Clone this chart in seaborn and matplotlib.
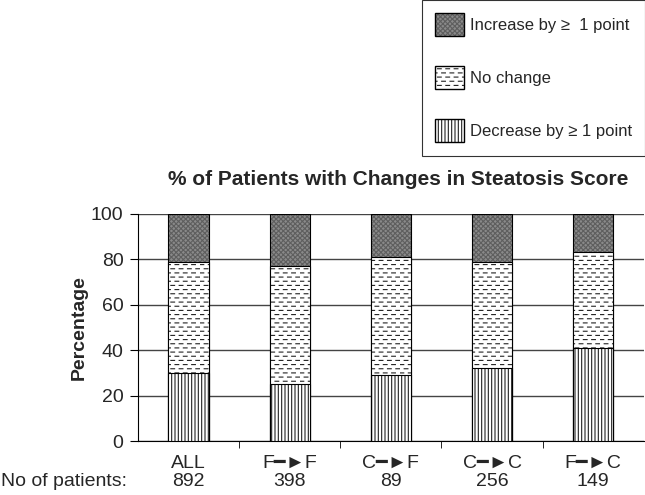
import warnings
import numpy as np
import pandas as pd
import matplotlib.pyplot as plt
import matplotlib.colors as mcolors
import matplotlib.hatch as mhatch
from matplotlib.path import Path
from matplotlib.patches import Patch
import seaborn as sns

warnings.filterwarnings("ignore")

categories = ["ALL", "F\u2501\u25baF", "C\u2501\u25baF", "C\u2501\u25baC", "F\u2501\u25baC"]
n_patients = [892, 398, 89, 256, 149]
decrease = [30, 25, 29, 32, 41]
no_change = [49, 52, 52, 47, 42]
increase = [21, 23, 19, 21, 17]

df = pd.DataFrame({"group": categories, "decrease": decrease,
                   "no_change": no_change, "increase": increase})
df["top_nc"] = df["decrease"] + df["no_change"]
df["total"] = df["top_nc"] + df["increase"]


# staggered short dashes, like the "no change" fill
class DashHatch(mhatch.HatchPatternBase):
    filled = False

    def __init__(self, hatch, density):
        self.rows = int(hatch.count('~') * density)
        self.cols = 12
        self.num_vertices = self.rows * self.cols * 2

    def set_vertices_and_codes(self, vertices, codes):
        k = 0
        for i in range(self.rows):
            y = (i + 0.5) / self.rows
            off = 0 if i % 2 == 0 else 0.5 / self.cols
            for j in range(self.cols):
                x0 = j / self.cols + off
                vertices[k] = (x0, y)
                vertices[k + 1] = (x0 + 0.45 / self.cols, y)
                codes[k] = Path.MOVETO
                codes[k + 1] = Path.LINETO
                k += 2


mhatch._hatch_types.append(DashHatch)

sns.set_style("white")
plt.rcParams['font.family'] = ['Liberation Sans', 'DejaVu Sans']
plt.rcParams['hatch.linewidth'] = 0.8

fig = plt.figure(figsize=(6.45, 4.95), dpi=100)
ax = fig.add_axes([0.214, 0.109, 0.784, 0.459])

styles = {"total": ("#8a8a8a", "xxxxxxx", "#5e5e5e"),
          "top_nc": ("white", "~~~~", "#222222"),
          "decrease": ("white", "|||||", "#222222")}
for col in ["total", "top_nc", "decrease"]:
    fc, hatch, hc = styles[col]
    n0 = len(ax.patches)
    sns.barplot(data=df, x="group", y=col, color=fc, width=0.4, ax=ax,
                saturation=1, edgecolor="black", linewidth=0.8, zorder=3)
    for p in ax.patches[n0:]:
        p.set_facecolor(fc)
        p.set_hatch(hatch)
        p._hatch_color = mcolors.to_rgba(hc)

ax.set_ylim(0, 100)
ax.set_xlim(-0.5, 4.5)
ax.set_yticks([0, 20, 40, 60, 80, 100])
ax.grid(axis="y", color="#444444", linewidth=1.0, zorder=0)
ax.set_axisbelow(True)
for s in ["top", "right"]:
    ax.spines[s].set_visible(False)
ax.spines["left"].set_color("black")
ax.spines["bottom"].set_color("black")
ax.set_xticks([0.5, 1.5, 2.5, 3.5], minor=True)
ax.tick_params(axis="x", which="minor", length=5, color="black", direction="out", bottom=True)
ax.tick_params(axis="x", which="major", length=0, labelsize=14, pad=10)
ax.tick_params(axis="y", length=5.5, color="black", direction="out", left=True,
               labelsize=14, pad=5)
ax.set_xlabel("")
ax.set_ylabel("Percentage", fontsize=14, fontweight="bold")
ax.yaxis.set_label_coords(-0.10, 0.5)
ax.set_title("% of Patients with Changes in Steatosis Score", fontsize=15,
             fontweight="bold", pad=21, x=0.515)

# patient counts row
fig.text(0.002, 0.028, "No of patients:", fontsize=14, ha="left", va="center")
for i, n in enumerate(n_patients):
    x_fig = fig.transFigure.inverted().transform(ax.transData.transform((i, 0)))[0]
    fig.text(x_fig, 0.028, str(n), fontsize=14, ha="center", va="center")

labels = ["Increase by \u2265  1 point", "No change", "Decrease by \u2265 1 point"]
handles = [Patch(facecolor=styles[c][0], edgecolor="black", hatch=styles[c][1], label=l)
           for c, l in zip(["total", "top_nc", "decrease"], labels)]
leg = fig.legend(handles=handles, loc="upper right", bbox_to_anchor=(1.0, 1.0),
                 frameon=True, fancybox=False, edgecolor="black", fontsize=12,
                 handlelength=1.7, handleheight=1.75, labelspacing=1.8,
                 handletextpad=0.35, borderpad=0.8, borderaxespad=0.0)
leg.get_frame().set_linewidth(0.8)
for p, c in zip(leg.get_patches(), ["total", "top_nc", "decrease"]):
    p._hatch_color = mcolors.to_rgba(styles[c][2])

fig.savefig("out.png", dpi=100)
